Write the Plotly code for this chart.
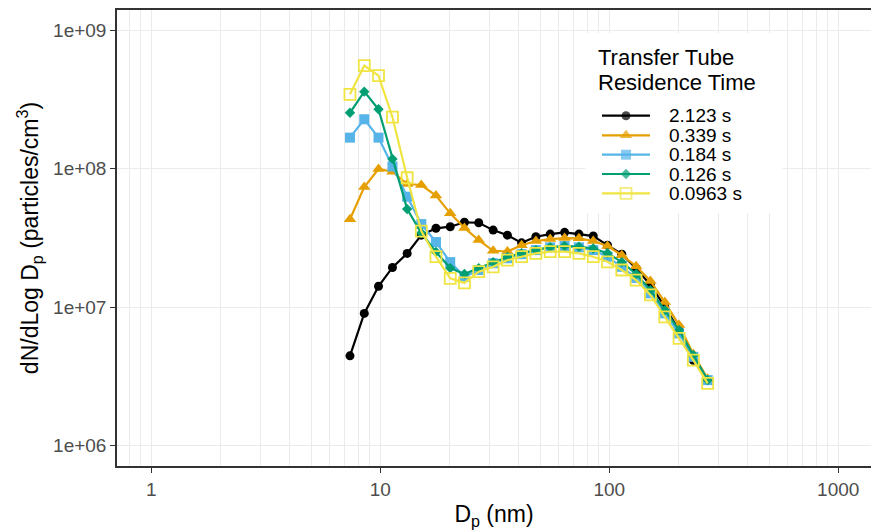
import plotly.graph_objects as go

# diameters (nm), SMPS bins
dp = [7.37, 8.51, 9.82, 11.3, 13.1, 15.1, 17.5, 20.2, 23.3, 26.9, 31.1, 35.9, 41.4,
      47.8, 55.2, 63.8, 73.7, 85.1, 98.2, 113.4, 131.0, 151.2, 174.7, 201.7, 232.9, 269.0]

# dN/dLogDp (particles/cm3) for each transfer tube residence time
rt_2123 = [4.46e6, 9.04e6, 1.42e7, 1.94e7, 2.45e7, 3.32e7, 3.72e7, 3.82e7, 4.11e7, 4.08e7,
           3.61e7, 3.32e7, 2.92e7, 3.23e7, 3.38e7, 3.48e7, 3.38e7, 3.27e7, 2.81e7, 2.42e7,
           1.91e7, 1.45e7, 1.01e7, 6.84e6, 4.15e6, 2.98e6]
rt_0339 = [4.32e7, 7.39e7, 9.97e7, 9.53e7, 7.77e7, 7.64e7, 6.41e7, 4.77e7, 3.74e7, 3.06e7,
           2.56e7, 2.53e7, 2.81e7, 3.01e7, 3.11e7, 3.16e7, 3.15e7, 3.01e7, 2.77e7, 2.38e7,
           1.98e7, 1.55e7, 1.09e7, 7.44e6, 4.59e6, 3.05e6]
rt_0184 = [1.68e8, 2.28e8, 1.68e8, 1.04e8, 6.29e7, 3.99e7, 2.96e7, 2.12e7, 1.66e7, 1.86e7,
           2.08e7, 2.26e7, 2.42e7, 2.59e7, 2.71e7, 2.77e7, 2.71e7, 2.59e7, 2.32e7, 1.96e7,
           1.63e7, 1.26e7, 9.04e6, 6.48e6, 4.39e6, 2.98e6]
rt_0126 = [2.54e8, 3.61e8, 2.69e8, 1.18e8, 5.12e7, 3.44e7, 2.51e7, 1.92e7, 1.74e7, 1.92e7,
           2.12e7, 2.31e7, 2.46e7, 2.59e7, 2.72e7, 2.77e7, 2.74e7, 2.66e7, 2.46e7, 2.12e7,
           1.74e7, 1.33e7, 9.54e6, 6.84e6, 4.51e6, 2.98e6]
rt_00963 = [3.45e8, 5.56e8, 4.71e8, 2.36e8, 8.62e7, 3.55e7, 2.32e7, 1.62e7, 1.50e7, 1.81e7,
            1.96e7, 2.19e7, 2.32e7, 2.45e7, 2.52e7, 2.52e7, 2.45e7, 2.32e7, 2.13e7, 1.86e7,
            1.57e7, 1.23e7, 8.54e6, 5.96e6, 4.15e6, 2.82e6]

labels = ["2.123 s", "0.339 s", "0.184 s", "0.126 s", "0.0963 s"]
values = [rt_2123, rt_0339, rt_0184, rt_0126, rt_00963]
colors = ["#000000", "#E69F00", "#56B4E9", "#009E73", "#F0E442"]
symbols = ["circle", "triangle-up", "square", "diamond", "square-open"]
sizes = [9, 11, 10, 8, 11]

FONT = "Liberation Sans, Arial, sans-serif"
grid = "#EBEBEB"

fig = go.Figure()
for name, vals, col, sym, size in zip(labels, values, colors, symbols, sizes):
    fig.add_trace(go.Scatter(
        x=dp, y=vals, name=name, mode="lines+markers", showlegend=False,
        line=dict(color=col, width=2.2),
        marker=dict(symbol=sym, size=size, color=col,
                    line=dict(color=col, width=1.8 if sym.endswith("open") else 0)),
    ))

# legend drawn by hand (ggplot-style tight spacing), in pixel units on an overlay axis
leg_rows = [115.7, 135.3, 154.7, 174.0, 193.3]
# white legend box hiding the grid
fig.add_trace(go.Scatter(
    x=[585, 783, 783, 585, 585], y=[33, 33, 213, 213, 33], xaxis="x2", yaxis="y2",
    mode="lines", fill="toself", fillcolor="white", line=dict(width=0),
    showlegend=False, hoverinfo="skip",
))
for row, name, col, sym, size in zip(leg_rows, labels, colors, symbols, sizes):
    fig.add_trace(go.Scatter(
        x=[602, 626, 650], y=[row] * 3, xaxis="x2", yaxis="y2",
        mode="lines+markers", showlegend=False, hoverinfo="skip",
        line=dict(color=col, width=2.2),
        marker=dict(symbol=sym, size=[0, size, 0], color=col,
                    line=dict(color=col, width=1.8 if sym.endswith("open") else 0)),
    ))
    fig.add_annotation(x=667, y=row, xref="x2", yref="y2", text=name, showarrow=False,
                       xanchor="left", yanchor="middle",
                       font=dict(size=19, color="#000000", family=FONT))
for row, txt in zip([57, 82], ["Transfer Tube", "Residence Time"]):
    fig.add_annotation(x=596, y=row, xref="x2", yref="y2", text=txt, showarrow=False,
                       xanchor="left", yanchor="middle",
                       font=dict(size=22, color="#000000", family=FONT))

fig.update_layout(
    xaxis=dict(
        type="log", range=[-0.15, 3.143],
        tickvals=[1, 10, 100, 1000], ticktext=["1", "10", "100", "1000"],
        ticks="outside", ticklen=5, tickwidth=1.2, tickcolor="#333333",
        tickfont=dict(size=19, color="#4D4D4D", family=FONT),
        showgrid=True, gridcolor=grid, gridwidth=1.2,
        minor=dict(dtick="D1", showgrid=True, gridcolor=grid, gridwidth=1, ticks=""),
        showline=True, linecolor="#333333", linewidth=1.5, mirror=True,
        zeroline=False,
        title=dict(text="D<sub>p</sub> (nm)", font=dict(size=23, color="#000000", family=FONT),
                   standoff=8),
    ),
    yaxis=dict(
        type="log", range=[5.854, 9.147],
        tickvals=[1e6, 1e7, 1e8, 1e9], ticktext=["1e+06", "1e+07", "1e+08", "1e+09"],
        ticks="outside", ticklen=5, tickwidth=1.2, tickcolor="#333333",
        tickfont=dict(size=19, color="#4D4D4D", family=FONT),
        showgrid=True, gridcolor=grid, gridwidth=1.2,
        minor=dict(showgrid=False, ticks=""),
        showline=True, linecolor="#333333", linewidth=1.5,
        zeroline=False,
        title=dict(text="dN/dLog D<sub>p</sub> (particles/cm<sup>3</sup>)",
                   font=dict(size=23, color="#000000", family=FONT), standoff=8),
    ),
    xaxis2=dict(overlaying="x", range=[117, 871], visible=False, fixedrange=True),
    yaxis2=dict(overlaying="y", range=[466, 10], visible=False, fixedrange=True),
    width=871, height=530,
    margin=dict(l=117, r=0, t=10, b=64),
    paper_bgcolor="white", plot_bgcolor="white",
    font=dict(family=FONT),
    showlegend=False,
)

fig.write_html("out.html", config={"displayModeBar": False},
               post_script="document.body.style.margin='0';")
